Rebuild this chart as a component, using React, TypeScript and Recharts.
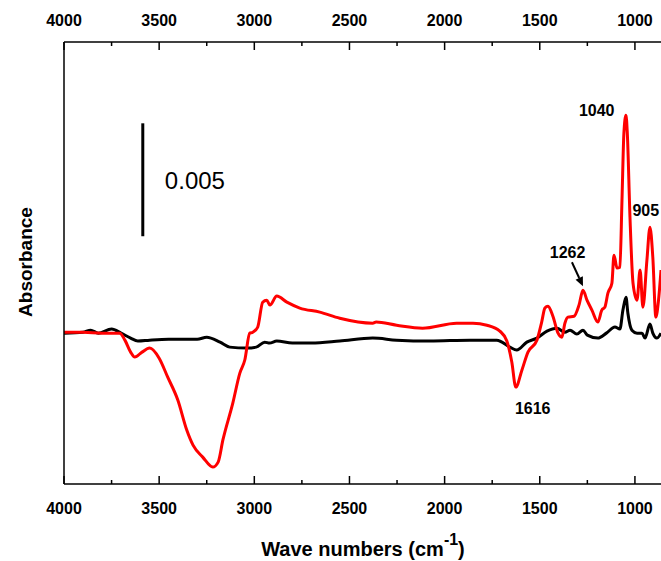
import * as React from 'react';
import { LineChart, Line, XAxis, YAxis, ReferenceLine, ReferenceDot } from 'recharts';

const FONT = '"Liberation Sans", Arial, sans-serif';

// wavenumber axis (cm-1), reversed
const X_DOMAIN = [863, 4000];
const Y_DOMAIN = [-0.00668, 0.01289];
const X_TICKS = [1000, 1250, 1500, 1750, 2000, 2250, 2500, 2750, 3000, 3250, 3500, 3750, 4000];

// red spectrum
const redWave = [
  4000, 3900, 3800, 3707, 3680, 3650, 3628, 3590, 3550, 3500,
  3455, 3402, 3355, 3322, 3271, 3218, 3190, 3165, 3113, 3076,
  3050, 3024, 3008, 2982, 2956, 2935, 2918, 2882, 2829, 2761,
  2656, 2551, 2378, 2360, 2252, 2116, 1937, 1851, 1778, 1710,
  1673, 1647, 1626, 1594, 1562, 1515, 1490, 1473, 1457, 1431,
  1404, 1384, 1368, 1352, 1320, 1294, 1273, 1252, 1226, 1195,
  1174, 1158, 1142, 1121, 1110, 1094, 1079, 1068, 1058, 1047,
  1040, 1026, 1010, 989, 973, 958, 937, 921, 906, 890,
  876, 863,
];
const redAbs = [
  0.00004, 0.00004, 0, 0, -0.00031, -0.00084, -0.00106, -0.00084, -0.00066, -0.00111,
  -0.00195, -0.00296, -0.00429, -0.00496, -0.00549, -0.00593, -0.00571, -0.00473, -0.0031, -0.00177,
  -0.00119, 0, 0.00004, 0.00027, 0.00137, 0.00146, 0.00124, 0.00164, 0.00137, 0.00111,
  0.00093, 0.00066, 0.00044, 0.00049, 0.00035, 0.00022, 0.00044, 0.00044, 0.00035, 0.00009,
  -0.00035, -0.00128, -0.00239, -0.00164, -0.00084, -0.00031, 0.00049, 0.00111, 0.00119, 0.00075,
  0, -0.00018, 0.00044, 0.00071, 0.00075, 0.00124, 0.0019, 0.00146, 0.00102, 0.00049,
  0.00102, 0.00115, 0.00177, 0.00221, 0.00345, 0.00288, 0.00292, 0.00589, 0.00885, 0.00965,
  0.00885, 0.00513, 0.00221, 0.00146, 0.00279, 0.00115, 0.00323, 0.00469, 0.00336, 0.00071,
  0.00146, 0.00279,
];

// black spectrum
const blackWave = [
  4000, 3900, 3860, 3820, 3750, 3700, 3650, 3612, 3550, 3450,
  3300, 3250, 3180, 3129, 3040, 2990, 2945, 2920, 2882, 2800,
  2700, 2551, 2378, 2252, 2077, 1867, 1726, 1657, 1621, 1568,
  1515, 1462, 1410, 1368, 1341, 1305, 1273, 1250, 1195, 1150,
  1105, 1079, 1063, 1047, 1037, 1016, 989, 963, 947, 921,
  906, 885, 863,
];
const blackAbs = [
  0, 0.00004, 0.00013, 0, 0.00018, 0, -0.00022, -0.00035, -0.00031, -0.00027,
  -0.00027, -0.00018, -0.0004, -0.00062, -0.00066, -0.00062, -0.0004, -0.00044, -0.00035, -0.00044,
  -0.00044, -0.00035, -0.00022, -0.00031, -0.00035, -0.00031, -0.00031, -0.00062, -0.00075, -0.0004,
  -0.00022, 0.00009, 0.00022, 0.00004, 0.00013, -0.00004, 0.00013, -0.00009, -0.00022, 0,
  0.00027, 0.00018, 0.00102, 0.00159, 0.00088, 0.00013, 0, 0, -0.00022, 0.0004,
  0, -0.00022, 0,
];

// peak annotations
const peakLabels = ['1040', '905', '1262', '1616'];
const peakLabelWave = [1201, 943, 1354, 1537];
const peakLabelAbs = [0.00987, 0.00544, 0.00358, -0.00332];

// arrow to 1262 peak
const arrowWave = [1331, 1273];
const arrowAbs = [0.00314, 0.00208];

// scale bar (0.005 absorbance)
const scaleWave = 3586;
const scaleAbs = [0.00429, 0.00929];
const scaleText = '0.005';
const scaleTextWave = 3470;
const scaleTextAbs = 0.00677;

const redData = redWave.map((w, i) => ({ w, a: redAbs[i] }));
const blackData = blackWave.map((w, i) => ({ w, a: blackAbs[i] }));

function BottomTick(props: any) {
  const { x, y, payload } = props;
  const major = payload.value % 500 === 0;
  return (
    <g>
      <line x1={x} x2={x} y1={y} y2={y - (major ? 8 : 4)} stroke="#000" strokeWidth={1.5} />
      {major && (
        <text x={x} y={y + 24} textAnchor="middle" dominantBaseline="central"
          fontFamily={FONT} fontWeight="bold" fontSize={16} fill="#000">
          {payload.value}
        </text>
      )}
    </g>
  );
}

function TopTick(props: any) {
  const { x, y, payload } = props;
  const major = payload.value % 500 === 0;
  return (
    <g>
      <line x1={x} x2={x} y1={y} y2={y + (major ? 8 : 4)} stroke="#000" strokeWidth={1.5} />
      {major && (
        <text x={x} y={y - 22} textAnchor="middle" dominantBaseline="central"
          fontFamily={FONT} fontWeight="bold" fontSize={16} fill="#000">
          {payload.value}
        </text>
      )}
    </g>
  );
}

function Arrow(props: any) {
  const { x1, y1, x2, y2 } = props;
  const ang = Math.atan2(y2 - y1, x2 - x1);
  const len = 9;
  const wid = 4;
  const bx = x2 - len * Math.cos(ang);
  const by = y2 - len * Math.sin(ang);
  const px = -Math.sin(ang) * wid;
  const py = Math.cos(ang) * wid;
  return (
    <g>
      <line x1={x1} y1={y1} x2={bx} y2={by} stroke="#000" strokeWidth={2} />
      <polygon points={`${x2},${y2} ${bx + px},${by + py} ${bx - px},${by - py}`} fill="#000" />
    </g>
  );
}

export default function App() {
  return (
    <div style={{ position: 'absolute', left: 0, top: 0, width: 661, height: 561, background: '#fff' }}>
      <LineChart width={661} height={561} margin={{ top: 0, right: 0, bottom: 0, left: 0 }}>
        <XAxis
          xAxisId="bottom"
          dataKey="w"
          type="number"
          domain={X_DOMAIN}
          allowDataOverflow
          reversed
          orientation="bottom"
          height={77}
          ticks={X_TICKS}
          interval={0}
          tickSize={0}
          tickMargin={0}
          tickLine={false}
          tick={<BottomTick />}
          axisLine={{ stroke: '#000', strokeWidth: 1.5 }}
        />
        <XAxis
          xAxisId="top"
          dataKey="w"
          type="number"
          domain={X_DOMAIN}
          allowDataOverflow
          reversed
          orientation="top"
          height={42}
          ticks={X_TICKS}
          interval={0}
          tickSize={0}
          tickMargin={0}
          tickLine={false}
          tick={<TopTick />}
          axisLine={{ stroke: '#000', strokeWidth: 1.5 }}
        />
        <YAxis
          yAxisId="abs"
          type="number"
          domain={Y_DOMAIN}
          allowDataOverflow
          width={64}
          tick={false}
          tickLine={false}
          axisLine={{ stroke: '#000', strokeWidth: 1.5 }}
        />
        <Line
          xAxisId="bottom"
          yAxisId="abs"
          data={blackData}
          dataKey="a"
          type="monotone"
          stroke="#000"
          strokeWidth={3}
          dot={false}
          activeDot={false}
          isAnimationActive={false}
        />
        <Line
          xAxisId="bottom"
          yAxisId="abs"
          data={redData}
          dataKey="a"
          type="monotone"
          stroke="#ff0000"
          strokeWidth={3}
          dot={false}
          activeDot={false}
          isAnimationActive={false}
        />
        <ReferenceLine
          xAxisId="bottom"
          yAxisId="abs"
          segment={[{ x: scaleWave, y: scaleAbs[0] }, { x: scaleWave, y: scaleAbs[1] }]}
          stroke="#000"
          strokeWidth={3}
        />
        <ReferenceLine
          xAxisId="bottom"
          yAxisId="abs"
          segment={[{ x: arrowWave[0], y: arrowAbs[0] }, { x: arrowWave[1], y: arrowAbs[1] }]}
          shape={(p: any) => <Arrow {...p} />}
        />
        <ReferenceDot
          xAxisId="bottom"
          yAxisId="abs"
          x={scaleTextWave}
          y={scaleTextAbs}
          shape={(p: any) => (
            <text x={p.cx} y={p.cy} dominantBaseline="central" fontFamily={FONT} fontSize={24} fill="#000">
              {scaleText}
            </text>
          )}
        />
        {peakLabels.map((lab, i) => (
          <ReferenceDot
            key={lab}
            xAxisId="bottom"
            yAxisId="abs"
            x={peakLabelWave[i]}
            y={peakLabelAbs[i]}
            shape={(p: any) => (
              <text x={p.cx} y={p.cy} textAnchor="middle" dominantBaseline="central"
                fontFamily={FONT} fontWeight="bold" fontSize={16} fill="#000">
                {lab}
              </text>
            )}
          />
        ))}
      </LineChart>
      <div
        style={{
          position: 'absolute', left: 25, top: 262, transform: 'translate(-50%, -50%) rotate(-90deg)',
          fontFamily: FONT, fontWeight: 'bold', fontSize: 19, whiteSpace: 'nowrap', lineHeight: 1,
        }}
      >
        Absorbance
      </div>
      <div
        style={{
          position: 'absolute', left: 363, top: 549, transform: 'translate(-50%, -50%)',
          fontFamily: FONT, fontWeight: 'bold', fontSize: 20, whiteSpace: 'nowrap', lineHeight: 1,
        }}
      >
        Wave numbers (cm<sup style={{ fontSize: 16, verticalAlign: 'top', position: 'relative', top: -7 }}>-1</sup>)
      </div>
    </div>
  );
}
